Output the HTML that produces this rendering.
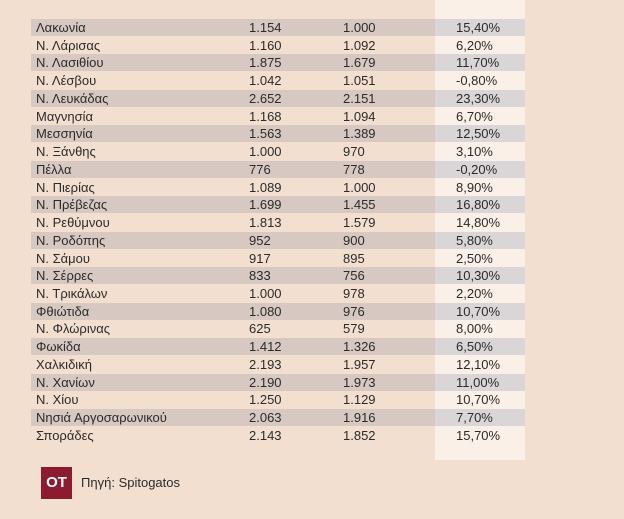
<!DOCTYPE html>
<html>
<head>
<meta charset="utf-8">
<style>
  html, body { margin:0; padding:0; }
  body {
    width:624px; height:519px; overflow:hidden; position:relative;
    background:#f3dfcf;
    font-family:"Liberation Sans","Noto Sans CJK SC",sans-serif;
    color:#2b2b2b;
  }
  .lightcol { position:absolute; left:435px; top:0; width:90px; height:460px; background:#fbf0e8; }
  .tbl { position:absolute; left:31px; top:19px; width:494px; }
  .row { position:relative; height:17.74px; font-size:13px; line-height:17px; }
  .row.g .band { position:absolute; left:0; top:0; width:404px; height:17px; background:#d7c9c2; }
  .row.g .band2 { position:absolute; left:404px; top:0; width:90px; height:17px; background:#dad6d7; }
  .row span { position:absolute; top:0; white-space:nowrap; }
  .c1 { left:5px; }
  .c2 { left:218px; }
  .c3 { left:312px; }
  .c4 { left:425px; }
  .logo { position:absolute; left:41px; top:467px; width:31px; height:32px; background:#8c1b30; color:#fff;
          font-weight:bold; font-size:15px; line-height:32px; text-align:center; letter-spacing:0px; }
  .src { position:absolute; left:81px; top:474px; font-size:13px; line-height:17px; color:#2b2b2b; }
</style>
</head>
<body>
<div class="lightcol"></div>
<div class="tbl">
  <div class="row g"><div class="band"></div><div class="band2"></div><span class="c1">Λακωνία</span><span class="c2">1.154</span><span class="c3">1.000</span><span class="c4">15,40%</span></div>
  <div class="row"><span class="c1">Ν. Λάρισας</span><span class="c2">1.160</span><span class="c3">1.092</span><span class="c4">6,20%</span></div>
  <div class="row g"><div class="band"></div><div class="band2"></div><span class="c1">Ν. Λασιθίου</span><span class="c2">1.875</span><span class="c3">1.679</span><span class="c4">11,70%</span></div>
  <div class="row"><span class="c1">Ν. Λέσβου</span><span class="c2">1.042</span><span class="c3">1.051</span><span class="c4">-0,80%</span></div>
  <div class="row g"><div class="band"></div><div class="band2"></div><span class="c1">Ν. Λευκάδας</span><span class="c2">2.652</span><span class="c3">2.151</span><span class="c4">23,30%</span></div>
  <div class="row"><span class="c1">Μαγνησία</span><span class="c2">1.168</span><span class="c3">1.094</span><span class="c4">6,70%</span></div>
  <div class="row g"><div class="band"></div><div class="band2"></div><span class="c1">Μεσσηνία</span><span class="c2">1.563</span><span class="c3">1.389</span><span class="c4">12,50%</span></div>
  <div class="row"><span class="c1">Ν. Ξάνθης</span><span class="c2">1.000</span><span class="c3">970</span><span class="c4">3,10%</span></div>
  <div class="row g"><div class="band"></div><div class="band2"></div><span class="c1">Πέλλα</span><span class="c2">776</span><span class="c3">778</span><span class="c4">-0,20%</span></div>
  <div class="row"><span class="c1">Ν. Πιερίας</span><span class="c2">1.089</span><span class="c3">1.000</span><span class="c4">8,90%</span></div>
  <div class="row g"><div class="band"></div><div class="band2"></div><span class="c1">Ν. Πρέβεζας</span><span class="c2">1.699</span><span class="c3">1.455</span><span class="c4">16,80%</span></div>
  <div class="row"><span class="c1">Ν. Ρεθύμνου</span><span class="c2">1.813</span><span class="c3">1.579</span><span class="c4">14,80%</span></div>
  <div class="row g"><div class="band"></div><div class="band2"></div><span class="c1">Ν. Ροδόπης</span><span class="c2">952</span><span class="c3">900</span><span class="c4">5,80%</span></div>
  <div class="row"><span class="c1">Ν. Σάμου</span><span class="c2">917</span><span class="c3">895</span><span class="c4">2,50%</span></div>
  <div class="row g"><div class="band"></div><div class="band2"></div><span class="c1">Ν. Σέρρες</span><span class="c2">833</span><span class="c3">756</span><span class="c4">10,30%</span></div>
  <div class="row"><span class="c1">Ν. Τρικάλων</span><span class="c2">1.000</span><span class="c3">978</span><span class="c4">2,20%</span></div>
  <div class="row g"><div class="band"></div><div class="band2"></div><span class="c1">Φθιώτιδα</span><span class="c2">1.080</span><span class="c3">976</span><span class="c4">10,70%</span></div>
  <div class="row"><span class="c1">Ν. Φλώρινας</span><span class="c2">625</span><span class="c3">579</span><span class="c4">8,00%</span></div>
  <div class="row g"><div class="band"></div><div class="band2"></div><span class="c1">Φωκίδα</span><span class="c2">1.412</span><span class="c3">1.326</span><span class="c4">6,50%</span></div>
  <div class="row"><span class="c1">Χαλκιδική</span><span class="c2">2.193</span><span class="c3">1.957</span><span class="c4">12,10%</span></div>
  <div class="row g"><div class="band"></div><div class="band2"></div><span class="c1">Ν. Χανίων</span><span class="c2">2.190</span><span class="c3">1.973</span><span class="c4">11,00%</span></div>
  <div class="row"><span class="c1">Ν. Χίου</span><span class="c2">1.250</span><span class="c3">1.129</span><span class="c4">10,70%</span></div>
  <div class="row g"><div class="band"></div><div class="band2"></div><span class="c1">Νησιά Αργοσαρωνικού</span><span class="c2">2.063</span><span class="c3">1.916</span><span class="c4">7,70%</span></div>
  <div class="row"><span class="c1">Σποράδες</span><span class="c2">2.143</span><span class="c3">1.852</span><span class="c4">15,70%</span></div>
</div>
<div class="logo">OT</div>
<div class="src">Πηγή: Spitogatos</div>
</body>
</html>
